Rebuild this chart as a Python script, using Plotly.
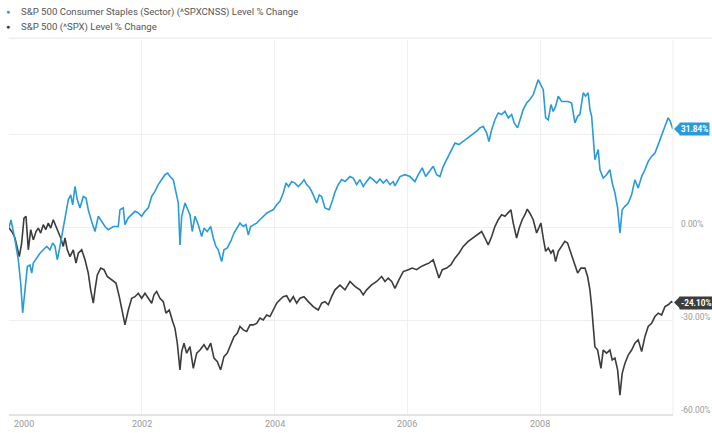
import pandas as pd
import plotly.graph_objects as go

# ---- data (decimal years, % change) ----
staples_t = [2000.000, 2000.015, 2000.030, 2000.090, 2000.140, 2000.176, 2000.206, 2000.241, 2000.276, 2000.316,
             2000.342, 2000.366, 2000.417, 2000.467, 2000.517, 2000.568, 2000.617, 2000.658, 2000.693, 2000.727,
             2000.758, 2000.794, 2000.843, 2000.893, 2000.929, 2000.959, 2000.994, 2001.029, 2001.069, 2001.119,
             2001.160, 2001.194, 2001.245, 2001.295, 2001.345, 2001.396, 2001.446, 2001.495, 2001.571, 2001.646,
             2001.672, 2001.721, 2001.747, 2001.797, 2001.848, 2001.898, 2001.947, 2001.998, 2002.048, 2002.098,
             2002.149, 2002.199, 2002.248, 2002.300, 2002.349, 2002.390, 2002.425, 2002.474, 2002.515, 2002.550,
             2002.575, 2002.601, 2002.651, 2002.685, 2002.726, 2002.760, 2002.801, 2002.851, 2002.902, 2002.937,
             2002.986, 2003.038, 2003.077, 2003.117, 2003.152, 2003.203, 2003.238, 2003.288, 2003.339, 2003.389,
             2003.438, 2003.479, 2003.529, 2003.569, 2003.604, 2003.640, 2003.690, 2003.730, 2003.780, 2003.830,
             2003.881, 2003.931, 2003.980, 2004.032, 2004.081, 2004.131, 2004.172, 2004.212, 2004.258, 2004.307,
             2004.357, 2004.408, 2004.443, 2004.483, 2004.533, 2004.583, 2004.634, 2004.673, 2004.709, 2004.759,
             2004.824, 2004.875, 2004.910, 2004.959, 2005.011, 2005.060, 2005.136, 2005.185, 2005.236, 2005.286,
             2005.336, 2005.387, 2005.437, 2005.486, 2005.538, 2005.587, 2005.637, 2005.688, 2005.738, 2005.788,
             2005.813, 2005.889, 2005.964, 2006.039, 2006.114, 2006.164, 2006.224, 2006.276, 2006.340, 2006.390,
             2006.441, 2006.491, 2006.541, 2006.616, 2006.667, 2006.717, 2006.777, 2006.842, 2006.917, 2006.977,
             2007.044, 2007.093, 2007.143, 2007.194, 2007.229, 2007.270, 2007.319, 2007.369, 2007.420, 2007.470,
             2007.520, 2007.571, 2007.610, 2007.661, 2007.696, 2007.745, 2007.797, 2007.846, 2007.896, 2007.937,
             2007.971, 2008.008, 2008.047, 2008.083, 2008.122, 2008.163, 2008.197, 2008.233, 2008.273, 2008.324,
             2008.373, 2008.423, 2008.474, 2008.524, 2008.565, 2008.599, 2008.649, 2008.685, 2008.724, 2008.750,
             2008.776, 2008.800, 2008.825, 2008.875, 2008.901, 2008.950, 2009.001, 2009.051, 2009.086, 2009.127,
             2009.167, 2009.202, 2009.236, 2009.277, 2009.327, 2009.378, 2009.428, 2009.477, 2009.529, 2009.578,
             2009.628, 2009.679, 2009.729, 2009.779, 2009.830, 2009.880, 2009.929, 2009.960, 2009.998]
staples_v = [0.0, 2.0, 2.5, -3.9, -10.3, -17.8, -27.4, -20.0, -12.5, -12.0,
             -14.6, -11.4, -9.8, -8.2, -7.1, -6.0, -7.1, -4.9, -6.0, -10.3,
             -7.1, -2.8, 3.7, 9.0, 10.6, 7.4, 13.3, 9.0, 6.4, 10.1,
             9.6, 5.8, 2.0, -1.2, 3.7, 2.0, 0.4, -0.6, 0.4, 0.4,
             5.8, 6.4, 1.0, 3.2, 4.2, 5.3, 4.8, 3.7, 5.3, 6.4,
             10.1, 11.7, 13.9, 15.5, 17.1, 17.6, 16.5, 15.5, 11.2, 8.0,
             -5.5, 3.7, 8.0, 6.4, 4.2, -1.2, 3.7, 1.0, -2.8, -0.1,
             -1.2, 0.4, -3.3, -6.0, -7.1, -10.9, -7.1, -6.5, -4.4, -1.7,
             -0.1, 1.5, 0.4, 1.0, -2.3, 0.4, 1.0, 1.5, 2.6, 3.7,
             4.7, 5.3, 5.8, 7.4, 8.5, 11.2, 14.4, 13.3, 14.9, 14.4,
             13.3, 14.4, 15.5, 13.9, 12.8, 10.6, 8.0, 10.6, 10.1, 6.4,
             5.8, 9.0, 11.5, 13.9, 15.5, 14.9, 16.5, 16.0, 13.9, 15.5,
             13.3, 14.9, 16.3, 15.5, 14.4, 15.7, 14.4, 15.5, 13.9, 14.9,
             13.5, 16.5, 17.1, 16.5, 14.9, 17.1, 19.3, 16.5, 18.2, 19.8,
             17.1, 16.5, 19.8, 23.0, 25.7, 27.3, 26.8, 27.8, 28.9, 30.0,
             31.1, 32.2, 32.7, 30.6, 27.8, 31.6, 34.8, 37.0, 36.5, 37.5,
             35.4, 36.5, 33.8, 32.2, 34.8, 38.1, 40.2, 41.3, 42.9, 45.6,
             47.7, 46.1, 44.5, 35.4, 34.8, 39.7, 37.5, 39.1, 42.4, 40.7,
             40.7, 40.7, 40.2, 33.8, 35.9, 36.5, 43.5, 42.4, 43.5, 38.1,
             35.9, 28.4, 21.9, 25.2, 18.7, 16.0, 17.1, 18.7, 14.4, 11.2,
             6.4, -1.7, 5.8, 6.9, 8.0, 10.6, 15.5, 12.8, 16.5, 18.7,
             21.4, 23.0, 24.1, 26.8, 29.5, 32.7, 35.4, 34.3, 31.84]

spx_t = [2000.000, 2000.056, 2000.090, 2000.125, 2000.155, 2000.191, 2000.226, 2000.256, 2000.291, 2000.327,
         2000.366, 2000.407, 2000.441, 2000.477, 2000.517, 2000.553, 2000.592, 2000.628, 2000.667, 2000.708,
         2000.742, 2000.779, 2000.818, 2000.843, 2000.878, 2000.919, 2000.968, 2001.009, 2001.044, 2001.095,
         2001.145, 2001.194, 2001.230, 2001.270, 2001.295, 2001.330, 2001.381, 2001.431, 2001.480, 2001.547,
         2001.611, 2001.661, 2001.712, 2001.747, 2001.797, 2001.848, 2001.898, 2001.947, 2001.998, 2002.048,
         2002.098, 2002.149, 2002.184, 2002.224, 2002.274, 2002.324, 2002.364, 2002.414, 2002.465, 2002.500,
         2002.535, 2002.575, 2002.601, 2002.636, 2002.676, 2002.726, 2002.776, 2002.827, 2002.877, 2002.937,
         2002.986, 2003.038, 2003.087, 2003.137, 2003.188, 2003.238, 2003.288, 2003.339, 2003.389, 2003.438,
         2003.479, 2003.529, 2003.580, 2003.630, 2003.679, 2003.730, 2003.780, 2003.830, 2003.881, 2003.931,
         2003.980, 2004.032, 2004.081, 2004.131, 2004.182, 2004.232, 2004.282, 2004.333, 2004.383, 2004.443,
         2004.508, 2004.583, 2004.658, 2004.709, 2004.759, 2004.809, 2004.860, 2004.910, 2004.985, 2005.060,
         2005.136, 2005.211, 2005.286, 2005.336, 2005.387, 2005.462, 2005.538, 2005.613, 2005.663, 2005.712,
         2005.764, 2005.813, 2005.873, 2005.938, 2006.014, 2006.074, 2006.140, 2006.205, 2006.265, 2006.325,
         2006.390, 2006.441, 2006.476, 2006.526, 2006.592, 2006.657, 2006.717, 2006.777, 2006.842, 2006.917,
         2006.992, 2007.059, 2007.119, 2007.169, 2007.218, 2007.270, 2007.319, 2007.369, 2007.420, 2007.470,
         2007.520, 2007.560, 2007.595, 2007.646, 2007.685, 2007.730, 2007.771, 2007.806, 2007.846, 2007.896,
         2007.947, 2007.982, 2008.012, 2008.047, 2008.083, 2008.122, 2008.163, 2008.197, 2008.233, 2008.273,
         2008.324, 2008.373, 2008.413, 2008.449, 2008.483, 2008.524, 2008.565, 2008.614, 2008.675, 2008.715,
         2008.750, 2008.776, 2008.800, 2008.825, 2008.866, 2008.916, 2008.950, 2009.001, 2009.051, 2009.086,
         2009.127, 2009.167, 2009.202, 2009.236, 2009.277, 2009.327, 2009.378, 2009.428, 2009.477, 2009.529,
         2009.578, 2009.628, 2009.679, 2009.729, 2009.779, 2009.830, 2009.880, 2009.929, 2009.980, 2009.998]
spx_v = [0.0, -1.7, -3.3, -7.1, -9.3, -4.9, 3.1, 3.7, -7.1, -0.6,
         -3.9, -1.2, -0.1, -1.7, 1.0, -0.6, 1.5, -0.1, 2.6, 0.4,
         -1.2, -3.3, -6.0, -3.3, -7.1, -9.3, -7.1, -11.4, -8.2, -7.1,
         -10.3, -14.6, -20.0, -24.3, -20.0, -15.2, -13.0, -13.5, -15.7, -16.8,
         -17.8, -22.2, -27.5, -31.3, -26.5, -22.7, -22.2, -21.1, -22.7, -21.1,
         -22.7, -24.3, -21.6, -20.5, -22.7, -23.8, -27.5, -26.5, -30.2, -32.4,
         -37.2, -45.8, -39.9, -37.2, -40.4, -38.3, -45.3, -40.4, -39.4, -37.7,
         -39.4, -37.2, -42.0, -43.1, -45.8, -41.5, -40.4, -37.7, -35.1, -34.0,
         -31.8, -32.9, -33.4, -31.3, -31.3, -30.8, -29.1, -29.7, -28.1, -28.6,
         -26.5, -24.3, -23.2, -22.2, -21.9, -23.8, -22.2, -24.3, -22.7, -22.2,
         -23.8, -25.4, -26.5, -24.3, -23.8, -24.8, -22.2, -20.0, -18.5, -20.0,
         -17.3, -18.9, -20.0, -21.6, -20.0, -18.4, -17.3, -15.7, -17.3, -16.2,
         -17.3, -19.5, -16.8, -14.1, -13.5, -13.0, -13.5, -12.5, -11.9, -11.4,
         -10.3, -14.1, -16.2, -13.5, -13.0, -11.9, -9.8, -8.2, -6.0, -4.4,
         -3.3, -2.3, -1.2, -3.3, -5.5, -2.8, 0.4, 2.6, 4.2, 3.7,
         4.7, 5.8, 1.5, -3.3, -0.1, 2.6, 4.2, 6.0, 4.7, 2.6,
         -1.7, 0.4, 1.5, -3.3, -7.6, -6.5, -8.2, -7.1, -10.9, -7.6,
         -6.0, -4.4, -4.9, -7.1, -9.3, -11.9, -14.6, -13.0, -13.0, -15.7,
         -20.0, -25.4, -31.8, -38.3, -39.4, -45.3, -39.4, -40.4, -39.4, -42.6,
         -42.0, -45.8, -53.9, -46.9, -43.7, -41.0, -39.4, -37.2, -36.1, -39.9,
         -35.1, -31.8, -30.8, -28.6, -27.5, -28.1, -25.4, -24.8, -23.8, -24.10]

series_names = ["S&P 500 Consumer Staples (Sector) (^SPXCNSS) Level % Change",
                "S&P 500 (^SPX) Level % Change"]
y_ticks = [-60, -30, 0, 30]
y_ticktext = ["-60.00%", "-30.00%", "0.00%", ""]
x_label_years = [2000, 2002, 2004, 2006, 2008]

BLUE = "#2a9bd8"
GRAY = "#3c3c3c"


def to_dates(ts):
    base = pd.Timestamp("2000-01-01")
    return [base + pd.Timedelta(days=(t - 2000) * 365.25) for t in ts]


fig = go.Figure()
fig.add_trace(go.Scatter(x=to_dates(spx_t), y=spx_v, mode="lines",
                         line=dict(color=GRAY, width=1.6), name=series_names[1], showlegend=False))
fig.add_trace(go.Scatter(x=to_dates(staples_t), y=staples_v, mode="lines",
                         line=dict(color=BLUE, width=1.6), name=series_names[0], showlegend=False))

annotations = []
# legend (bullets + text)
for i, (name, col) in enumerate(zip(series_names, [BLUE, GRAY])):
    ypos = 1.0749 - i * 0.0401
    annotations.append(dict(xref="paper", yref="paper", x=0, y=ypos, xanchor="center", yanchor="middle",
                            xshift=-1, text="●", showarrow=False, font=dict(size=7, color=col)))
    annotations.append(dict(xref="paper", yref="paper", x=0, y=ypos, xanchor="left", yanchor="middle",
                            xshift=10, text=name, showarrow=False,
                            font=dict(size=9.6, color="#555555", family="Roboto")))
# x tick labels
for yr in x_label_years:
    annotations.append(dict(xref="x", yref="paper", x=f"{yr}-01-01", y=0, yanchor="top",
                            xanchor="left" if yr == 2000 else "center",
                            xshift=3 if yr == 2000 else 0, yshift=-3,
                            text=str(yr), showarrow=False,
                            font=dict(size=9, color="#9a9a9a", family="Roboto")))
# end value tags
shapes = []
for val, col in [(staples_v[-1], BLUE), (spx_v[-1], GRAY)]:
    annotations.append(dict(xref="paper", yref="y", x=1, y=val, xanchor="left", yanchor="middle",
                            xshift=6, text=f"<b>{val:.2f}%</b>", showarrow=False, bgcolor=col,
                            borderpad=1, font=dict(size=8.2, color="white", family="Roboto")))
    shapes.append(dict(type="path", xref="paper", yref="y", xsizemode="pixel", ysizemode="pixel",
                       xanchor=1, yanchor=val, path="M 1 0 L 7 6 L 7 -6 Z",
                       fillcolor=col, line=dict(width=0)))
# top separator and right border
shapes.append(dict(type="line", xref="paper", yref="paper", x0=0, x1=1.06, y0=1.005, y1=1.005,
                   line=dict(color="#e6e6e6", width=1)))
shapes.append(dict(type="line", xref="paper", yref="paper", x0=1, x1=1, y0=0, y1=1,
                   line=dict(color="#eeeeee", width=1)))

fig.update_layout(
    width=712, height=433,
    margin=dict(l=9, r=39, t=40, b=19, autoexpand=False),
    paper_bgcolor="white", plot_bgcolor="white",
    font=dict(family="Roboto", size=9, color="#9a9a9a"),
    showlegend=False,
    annotations=annotations,
    shapes=shapes,
    xaxis=dict(type="date", range=["2000-01-01", "2010-01-01"], dtick="M24", tick0="2000-01-01",
               showgrid=True, gridcolor="#efefef", gridwidth=1, showticklabels=False, automargin=False,
               showline=True, linecolor="#e4e4e4", linewidth=2, zeroline=False, ticks=""),
    yaxis=dict(side="right", range=[-60, 60.5], tickvals=y_ticks, ticktext=y_ticktext, automargin=False,
               showgrid=True, gridcolor="#efefef", gridwidth=1, zeroline=False, showline=False,
               ticks="", ticklabelstandoff=7, ticklabelshift=-4,
               tickfont=dict(size=8.4, color="#9a9a9a", family="Roboto")),
)

# remove the page's default body margin so the 712x433 figure fills the window exactly
fig.write_html("out.html", config={"displayModeBar": False},
               post_script="document.body.style.margin='0';document.body.style.overflow='hidden';")
